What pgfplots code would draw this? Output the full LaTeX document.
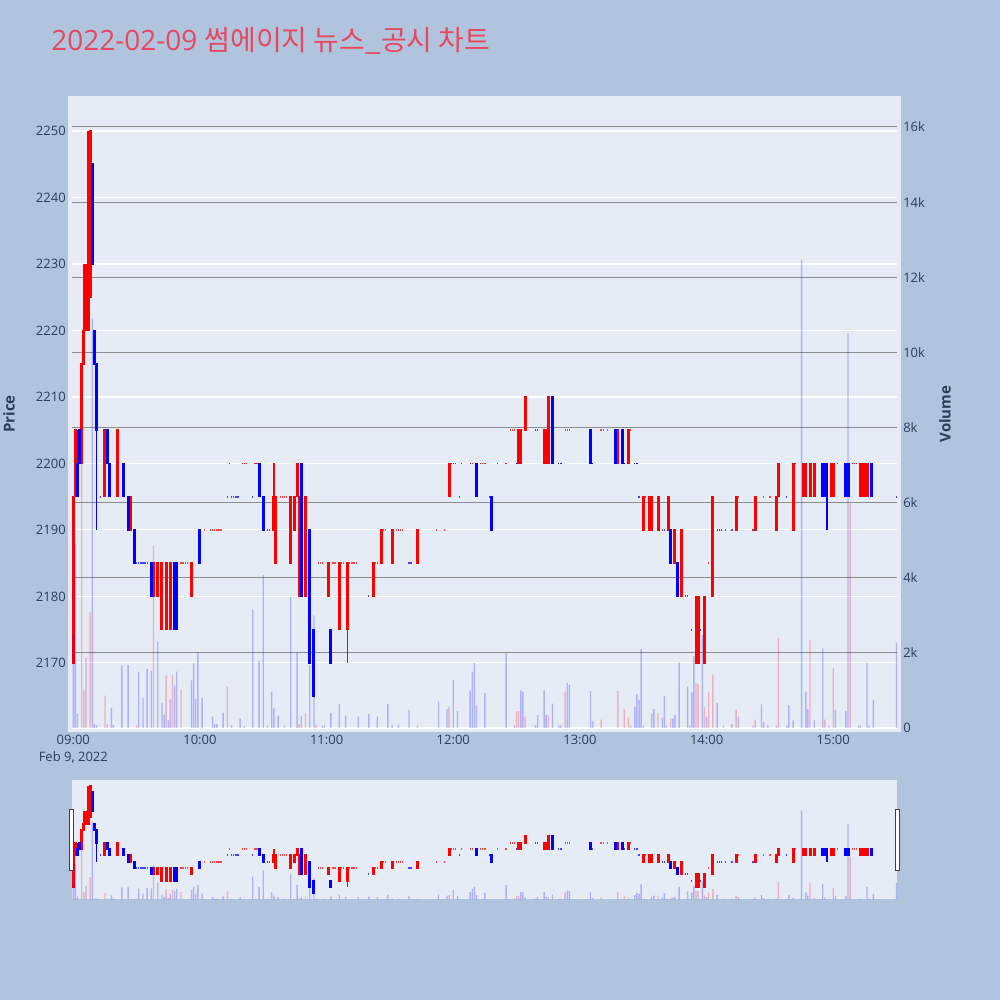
\documentclass[border=0pt]{standalone}
\usepackage{pgfplots}
\pgfplotsset{compat=1.18}
\usepackage{pgfplotstable}
\usepackage{fontspec}
\setmainfont{Open Sans}
\newfontfamily\kr[Scale=1.0]{Noto Sans CJK KR}

\definecolor{pagebg}{HTML}{B0C4DE}
\definecolor{plotbg}{HTML}{E5ECF6}
\definecolor{tickc}{HTML}{2A3F5F}
\definecolor{titlec}{HTML}{E8485F}
\definecolor{incr}{HTML}{FF0000}
\definecolor{decr}{HTML}{0000FF}
\definecolor{vgrid}{HTML}{8C8C8C}

\newlength\px
\setlength\px{0.72pt}

% candles: minute after 09:00, open, high, low, close
\pgfplotstableread{
m o h l c
0 2170 2195 2170 2195
1 2195 2205 2195 2205
4 2200 2215 2200 2215
5 2215 2230 2215 2220
6 2220 2230 2220 2225
7 2220 2250 2220 2245
8 2225 2250 2225 2250
15 2195 2205 2195 2205
21 2195 2205 2195 2205
27 2190 2195 2190 2195
38 2180 2185 2180 2185
40 2180 2185 2180 2185
42 2175 2185 2175 2185
44 2175 2185 2175 2185
46 2175 2185 2175 2185
51 2185 2185 2185 2185
52 2185 2185 2185 2185
53 2185 2185 2185 2185
54 2185 2185 2185 2185
56 2180 2185 2180 2185
62 2190 2190 2190 2190
65 2190 2190 2190 2190
66 2190 2190 2190 2190
67 2190 2190 2190 2190
68 2190 2190 2190 2190
69 2190 2190 2190 2190
70 2190 2190 2190 2190
74 2200 2200 2200 2200
80 2200 2200 2200 2200
81 2200 2200 2200 2200
82 2200 2200 2200 2200
86 2200 2200 2200 2200
87 2200 2200 2200 2200
95 2190 2200 2190 2195
96 2185 2195 2185 2195
98 2195 2195 2195 2195
99 2195 2195 2195 2195
100 2195 2195 2195 2195
101 2195 2195 2195 2195
103 2185 2195 2185 2195
105 2190 2195 2190 2195
106 2195 2200 2195 2200
107 2180 2195 2180 2195
110 2180 2195 2180 2195
116 2185 2185 2185 2185
117 2185 2185 2185 2185
118 2185 2185 2185 2185
121 2180 2185 2180 2185
123 2185 2185 2185 2185
124 2185 2185 2185 2185
126 2175 2185 2175 2185
127 2185 2185 2185 2185
128 2185 2185 2185 2185
130 2175 2185 2170 2185
131 2185 2185 2185 2185
132 2185 2185 2185 2185
133 2185 2185 2185 2185
134 2185 2185 2185 2185
142 2180 2185 2180 2185
143 2185 2185 2185 2185
144 2185 2185 2185 2185
146 2185 2190 2185 2190
147 2190 2190 2190 2190
148 2190 2190 2190 2190
151 2185 2190 2185 2190
153 2190 2190 2190 2190
154 2190 2190 2190 2190
155 2190 2190 2190 2190
156 2190 2190 2190 2190
163 2185 2190 2185 2190
172 2190 2190 2190 2190
176 2190 2190 2190 2190
178 2195 2200 2195 2200
179 2200 2200 2200 2200
180 2200 2200 2200 2200
181 2200 2200 2200 2200
184 2200 2200 2200 2200
188 2200 2200 2200 2200
189 2200 2200 2200 2200
193 2200 2200 2200 2200
194 2200 2200 2200 2200
195 2200 2200 2200 2200
201 2200 2200 2200 2200
205 2200 2200 2200 2200
207 2205 2205 2205 2205
208 2205 2205 2205 2205
209 2205 2205 2205 2205
211 2200 2205 2200 2205
212 2200 2205 2200 2205
214 2205 2210 2205 2210
223 2200 2205 2200 2205
224 2200 2205 2200 2205
225 2200 2210 2200 2210
233 2205 2205 2205 2205
234 2205 2205 2205 2205
235 2205 2205 2205 2205
250 2205 2205 2205 2205
251 2205 2205 2205 2205
253 2205 2205 2205 2205
258 2200 2205 2200 2205
263 2200 2205 2200 2205
264 2205 2205 2205 2205
270 2190 2195 2190 2195
271 2195 2195 2195 2195
273 2190 2195 2190 2195
274 2190 2195 2190 2195
277 2190 2195 2190 2195
282 2190 2195 2190 2195
285 2185 2190 2185 2190
288 2180 2190 2180 2190
295 2170 2180 2170 2180
296 2170 2180 2170 2180
299 2170 2180 2170 2180
301 2185 2185 2185 2185
303 2180 2195 2180 2195
314 2190 2195 2190 2195
315 2195 2195 2195 2195
323 2190 2195 2190 2195
327 2195 2195 2195 2195
330 2195 2195 2195 2195
333 2190 2195 2190 2195
334 2195 2200 2195 2200
341 2190 2200 2190 2200
342 2200 2200 2200 2200
346 2195 2200 2195 2200
347 2195 2200 2195 2200
349 2195 2200 2195 2200
351 2195 2200 2195 2200
359 2195 2200 2195 2200
360 2195 2200 2195 2200
362 2200 2200 2200 2200
369 2200 2200 2200 2200
370 2200 2200 2200 2200
371 2200 2200 2200 2200
373 2195 2200 2195 2200
374 2195 2200 2195 2200
375 2195 2200 2195 2200
376 2195 2200 2195 2200
}\upc

\pgfplotstableread{
m o h l c
2 2200 2205 2195 2195
3 2205 2205 2200 2200
9 2245 2245 2230 2230
10 2220 2220 2215 2215
11 2215 2215 2190 2205
13 2195 2195 2195 2195
16 2205 2205 2200 2200
17 2200 2200 2195 2195
24 2200 2200 2195 2195
26 2195 2195 2190 2190
29 2190 2190 2185 2185
30 2185 2185 2185 2185
31 2185 2185 2185 2185
32 2185 2185 2185 2185
33 2185 2185 2185 2185
34 2185 2185 2185 2185
35 2185 2185 2185 2185
37 2185 2185 2180 2180
48 2185 2185 2175 2175
49 2185 2185 2175 2175
60 2190 2190 2185 2185
73 2195 2195 2195 2195
75 2195 2195 2195 2195
76 2195 2195 2195 2195
77 2195 2195 2195 2195
78 2195 2195 2195 2195
85 2195 2195 2195 2195
88 2200 2200 2195 2195
90 2195 2195 2190 2190
92 2190 2190 2190 2190
93 2190 2190 2190 2190
108 2200 2200 2180 2180
112 2190 2190 2170 2170
114 2175 2175 2165 2165
122 2175 2175 2170 2170
140 2180 2180 2180 2180
159 2185 2185 2185 2185
160 2185 2185 2185 2185
183 2195 2195 2195 2195
191 2200 2200 2195 2195
197 2195 2195 2195 2195
198 2195 2195 2190 2190
210 2200 2200 2200 2200
219 2205 2205 2205 2205
220 2205 2205 2205 2205
227 2210 2210 2200 2200
230 2200 2200 2200 2200
231 2200 2200 2200 2200
245 2205 2205 2200 2200
246 2200 2200 2200 2200
257 2205 2205 2200 2200
260 2205 2205 2200 2200
261 2200 2200 2200 2200
266 2200 2200 2200 2200
267 2200 2200 2200 2200
268 2195 2195 2195 2195
279 2190 2190 2190 2190
280 2190 2190 2190 2190
283 2190 2190 2185 2185
286 2185 2185 2180 2180
290 2180 2180 2180 2180
291 2180 2180 2180 2180
293 2175 2175 2175 2175
297 2175 2175 2175 2175
305 2190 2190 2190 2190
306 2190 2190 2190 2190
307 2190 2190 2190 2190
309 2190 2190 2190 2190
312 2190 2190 2190 2190
322 2190 2190 2190 2190
338 2195 2195 2195 2195
355 2200 2200 2195 2195
356 2200 2200 2195 2195
357 2200 2200 2190 2195
366 2200 2200 2195 2195
367 2200 2200 2195 2195
378 2200 2200 2195 2195
390 2195 2195 2195 2195
}\downc

% volume bars
\pgfplotstableread{
m v
4 7300
5 1000
8 3100
15 860
16 100
30 80
38 4850
44 1400
47 1400
51 1030
73 1100
107 100
110 400
115 80
178 570
210 450
211 450
214 300
225 350
233 970
250 220
258 980
261 500
263 270
277 400
283 250
295 1200
296 1170
299 550
301 950
303 1430
314 480
323 220
334 2390
349 2340
356 220
360 1590
368 5980
}\upv

\pgfplotstableread{
m v
0 2500
1 4900
2 380
6 1870
9 10900
10 100
11 80
18 540
19 80
23 1660
26 1680
31 1500
33 800
35 1580
37 1520
40 2300
42 670
43 350
45 200
46 760
48 1130
49 1500
56 1270
57 1730
58 770
59 2020
61 800
66 300
67 100
68 100
71 400
75 80
79 250
81 50
85 3160
88 1780
90 4070
92 60
94 970
95 520
97 330
100 60
103 3500
106 2000
108 330
112 1680
114 3000
118 60
119 60
122 400
126 640
129 330
135 300
140 370
144 300
149 640
151 80
154 80
159 480
163 60
173 700
177 500
180 1280
182 450
188 1000
189 1500
190 1730
191 600
195 930
205 2000
209 80
212 1000
213 970
219 80
220 350
223 1000
224 350
227 650
230 60
231 60
234 1200
235 1150
245 980
246 180
264 60
266 570
267 900
268 750
269 2100
270 60
274 380
275 500
279 270
280 850
281 60
284 250
285 350
287 1750
291 1100
292 60
293 950
294 1920
298 2480
300 300
305 660
308 60
312 100
315 300
322 60
326 630
327 160
329 60
333 60
338 60
339 600
341 200
345 12460
347 970
348 500
351 200
355 2120
358 60
361 480
366 450
367 10520
372 60
373 60
376 1750
377 60
379 750
390 2270
}\downv

\pgfplotsset{
  frame/.style={scale only axis, anchor=south west,
    xmin=-0.62, xmax=390.2},
  pricey/.style={ymin=2160.2, ymax=2254.66},
  voly/.style={ymin=0, ymax=16719, scaled y ticks=false},
  wick/.style={draw=none, mark=none,
    error bars/.cd, y dir=both, y explicit, error mark=none,
    error bar style={draw=#1, line width=1.3\px}},
  body/.style={draw=none, mark=none,
    restrict expr to domain={abs(\thisrow{c}-\thisrow{o})}{1:1000},
    error bars/.cd, y dir=both, y explicit, error mark=none,
    error bar style={draw=#1, line width=3\px}},
  flat/.style={draw=none, mark=none,
    restrict expr to domain={abs(\thisrow{c}-\thisrow{o})}{-1:0.5},
    error bars/.cd, y dir=both, y explicit, error mark=none,
    error bar style={draw=#1, draw opacity=0.7, line width=1.3\px}},
  volbar/.style={ybar, bar width=1.4\px, bar shift=0pt, draw=none,
    fill=#1, fill opacity=0.24},
}
% the candle plots, drawn in both the main chart and the range slider
\newcommand\candles{
  \addplot[wick=incr] table[x=m, y expr={(\thisrow{h}+\thisrow{l})/2},
    y error expr={(\thisrow{h}-\thisrow{l})/2}] {\upc};
  \addplot[body=incr] table[x=m, y expr={(\thisrow{o}+\thisrow{c})/2},
    y error expr={abs(\thisrow{c}-\thisrow{o})/2+\pad}] {\upc};
  \addplot[flat=incr] table[x=m, y=c, y error expr={\pad}] {\upc};
  \addplot[wick=decr] table[x=m, y expr={(\thisrow{h}+\thisrow{l})/2},
    y error expr={(\thisrow{h}-\thisrow{l})/2}] {\downc};
  \addplot[body=decr] table[x=m, y expr={(\thisrow{o}+\thisrow{c})/2},
    y error expr={abs(\thisrow{c}-\thisrow{o})/2+\pad}] {\downc};
  \addplot[flat=decr] table[x=m, y=c, y error expr={\pad}] {\downc};
}
\newcommand\volumes{
  \addplot[volbar=incr] table[x=m, y=v] {\upv};
  \addplot[volbar=decr] table[x=m, y=v] {\downv};
}

\begin{document}
\begin{tikzpicture}
\fill[pagebg] (0,0) rectangle (1000\px,1000\px);
\fill[plotbg] (68\px,268\px) rectangle (901\px,904\px);

% volume axis: grid and labels on the right
\begin{axis}[frame, voly, at={(72\px,272\px)}, width=825\px, height=628\px,
  axis line style={draw=none}, major tick length=0pt, tick style={draw=none},
  xtick=\empty,
  ytick={2000,4000,...,16000},
  yticklabels={2k,4k,6k,8k,10k,12k,14k,16k},
  extra y ticks={0}, extra y tick labels={0},
  extra y tick style={major grid style={white, line width=1.5\px}},
  ytick pos=right, yticklabel pos=right,
  ymajorgrids, major grid style={vgrid, line width=1\px},
  tick label style={font=\fontsize{9.36pt}{11pt}\selectfont, text=tickc},
  yticklabel style={anchor=west, inner sep=0pt, xshift=6\px},
]
\end{axis}

% price axis with the candles
\def\pad{0.13}
\begin{axis}[frame, pricey, at={(72\px,272\px)}, width=825\px, height=628\px,
  axis line style={draw=none}, major tick length=0pt, tick style={draw=none},
  ytick={2170,2180,2190,2200,2210,2220,2230,2240,2250},
  yticklabels={2170,2180,2190,2200,2210,2220,2230,2240,2250},
  ymajorgrids, major grid style={white, line width=1.2\px},
  xtick={0,60,120,180,240,300,360},
  xticklabels={{09:00\\Feb 9, 2022},10:00,11:00,12:00,13:00,14:00,15:00},
  tick label style={font=\fontsize{9.36pt}{12.2pt}\selectfont, text=tickc},
  yticklabel style={anchor=east, inner sep=0pt, xshift=-6\px},
  xticklabel style={anchor=north, inner sep=0pt, yshift=-7\px, align=center},
]
\candles
\end{axis}

% volume bars over the candles
\begin{axis}[frame, voly, at={(72\px,272\px)}, width=825\px, height=628\px,
  hide axis]
\volumes
\end{axis}

% range slider
\fill[plotbg] (72\px,100.7\px) rectangle (897\px,220\px);
\def\pad{0.8}
\begin{axis}[frame, pricey, at={(72\px,100.7\px)}, width=825\px,
  height=119.3\px, hide axis]
\candles
\end{axis}
\begin{axis}[frame, voly, at={(72\px,100.7\px)}, width=825\px,
  height=119.3\px, hide axis]
\volumes
\end{axis}
\draw[fill=white, draw=black!75, line width=1\px]
  (69.3\px,129.3\px) rectangle (73.7\px,190\px);
\draw[fill=white, draw=black!75, line width=1\px]
  (895.3\px,129.3\px) rectangle (899.7\px,190\px);

% titles
\node[anchor=base west, inner sep=0pt, text=titlec,
  font=\fontsize{20.16pt}{24pt}\selectfont] at (51\px,949\px)
  {2022-02-09 {\kr 썸에이지 뉴스\_공시 차트}};
\node[rotate=90, inner sep=0pt, text=tickc,
  font=\fontsize{10.8pt}{13pt}\selectfont\bfseries] at (9\px,586\px) {Price};
\node[rotate=90, inner sep=0pt, text=tickc,
  font=\fontsize{10.8pt}{13pt}\selectfont\bfseries] at (945\px,586\px) {Volume};
\end{tikzpicture}
\end{document}
